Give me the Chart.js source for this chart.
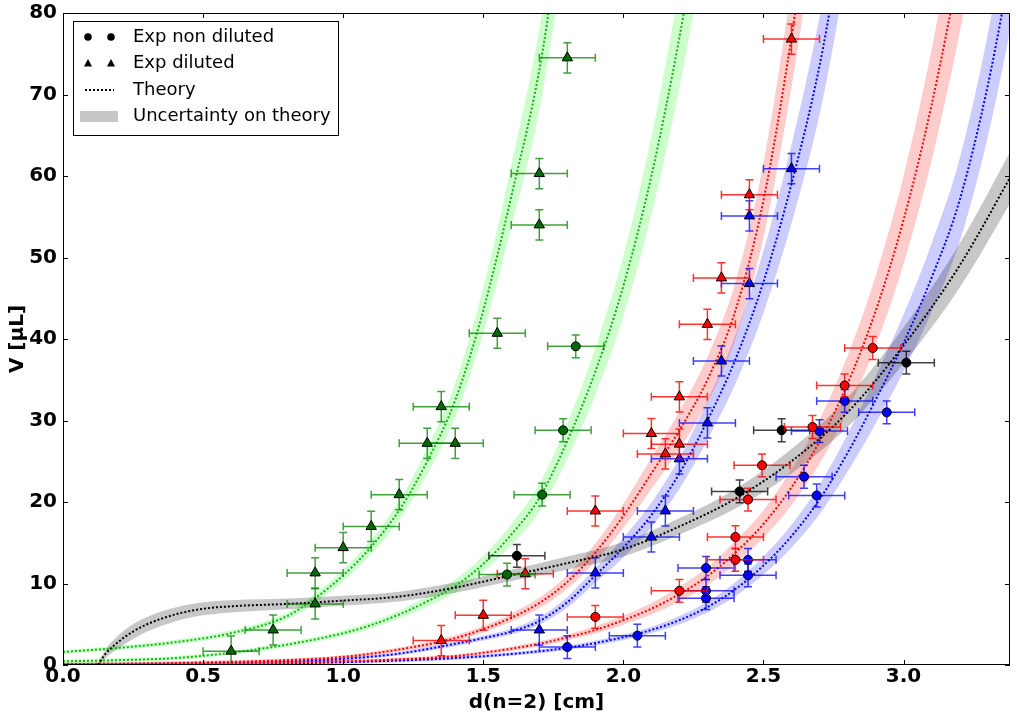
<!DOCTYPE html>
<html>
<head>
<meta charset="utf-8">
<script src="https://cdn.jsdelivr.net/npm/chart.js@4.4.1/dist/chart.umd.min.js"></script>
<style>
html,body{margin:0;padding:0;background:#fff}
#wrap{width:1017px;height:713px}
</style>
</head>
<body>
<div id="wrap"><canvas id="chart"></canvas></div>
<script>
// theory curves: x = d [cm], V [µL], band half width [µL]
const greenAX = [0, 0.2, 0.4, 0.6, 0.8, 0.9, 1.0, 1.1, 1.2, 1.3, 1.4, 1.5, 1.6, 1.7, 1.75, 1.8];
const greenAV = [1.6, 2.1, 2.8, 3.9, 6.0, 8.2, 11.0, 14.5, 19.0, 25.0, 32.5, 43.5, 57.5, 73, 84, 96];
const greenAErr = [0.25, 0.25, 0.3, 0.35, 0.45, 0.55, 0.7, 0.9, 1.2, 1.6, 2.1, 2.8, 3.8, 5, 5.8, 6.5];

const greenBX = [0, 0.2, 0.4, 0.6, 0.8, 1.0, 1.1, 1.2, 1.3, 1.4, 1.5, 1.6, 1.7, 1.8, 1.9, 2.0, 2.1, 2.2, 2.25, 2.3];
const greenBV = [0.45, 0.6, 0.85, 1.5, 2.5, 3.9, 4.9, 6.2, 7.8, 9.7, 12.4, 16.0, 20.5, 27.5, 36, 46.5, 60, 77, 87, 98];
const greenBErr = [0.25, 0.25, 0.25, 0.25, 0.3, 0.35, 0.4, 0.5, 0.65, 0.8, 1.0, 1.3, 1.7, 2.2, 2.9, 3.7, 4.8, 6.2, 7, 7.8];

const redAX = [0, 0.4, 0.8, 1.0, 1.2, 1.4, 1.5, 1.6, 1.7, 1.8, 1.9, 2.0, 2.1, 2.2, 2.3, 2.4, 2.5, 2.6, 2.65, 2.7];
const redAV = [0.1, 0.25, 0.6, 1.0, 1.9, 3.3, 4.4, 5.8, 7.6, 10.2, 13.8, 18.3, 23.5, 28.8, 35, 43.5, 57, 77, 89, 101];
const redAErr = [0.2, 0.2, 0.2, 0.2, 0.25, 0.35, 0.4, 0.5, 0.65, 0.85, 1.1, 1.5, 1.9, 2.3, 2.8, 3.5, 4.6, 6.2, 7.1, 8];

const blueAX = [0, 0.4, 0.8, 1.0, 1.2, 1.4, 1.5, 1.6, 1.7, 1.8, 1.9, 2.0, 2.1, 2.2, 2.3, 2.4, 2.5, 2.6, 2.7, 2.75, 2.8];
const blueAV = [0.05, 0.15, 0.4, 0.75, 1.4, 2.6, 3.3, 4.1, 5.4, 7.7, 11.0, 14.4, 18.4, 23.5, 30, 37.5, 47, 59, 73.5, 83, 94];
const blueAErr = [0.2, 0.2, 0.2, 0.2, 0.2, 0.3, 0.3, 0.35, 0.45, 0.65, 0.9, 1.2, 1.5, 1.9, 2.4, 3.0, 3.8, 4.8, 6, 6.8, 7.7];

const redBX = [0, 0.4, 0.8, 1.0, 1.2, 1.4, 1.5, 1.6, 1.7, 1.8, 1.9, 2.0, 2.1, 2.2, 2.3, 2.4, 2.5, 2.6, 2.7, 2.8, 2.9, 3.0, 3.1, 3.2, 3.25];
const redBV = [0.02, 0.1, 0.3, 0.45, 0.7, 1.1, 1.5, 2.0, 2.6, 3.4, 4.3, 5.5, 6.9, 8.7, 10.9, 13.8, 17.3, 21.8, 27.4, 34.5, 43.4, 54.6, 68.7, 86, 96];
const redBErr = [0.2, 0.2, 0.2, 0.2, 0.2, 0.2, 0.2, 0.25, 0.3, 0.35, 0.45, 0.55, 0.7, 0.9, 1.1, 1.4, 1.7, 2.2, 2.7, 3.4, 4.3, 5.4, 6.8, 8.5, 9.5];

const blueBX = [0, 0.4, 0.8, 1.0, 1.2, 1.4, 1.6, 1.8, 1.9, 2.0, 2.1, 2.2, 2.3, 2.4, 2.5, 2.6, 2.7, 2.8, 2.9, 3.0, 3.1, 3.2, 3.3, 3.4];
const blueBV = [0.02, 0.07, 0.2, 0.35, 0.55, 0.85, 1.35, 2.1, 2.7, 3.4, 4.3, 5.5, 7.1, 9.3, 12.2, 15.8, 20.3, 26, 32.5, 39.5, 47.5, 57, 71, 89];
const blueBErr = [0.2, 0.2, 0.2, 0.2, 0.2, 0.2, 0.2, 0.25, 0.3, 0.35, 0.4, 0.5, 0.65, 0.85, 1.1, 1.4, 1.8, 2.3, 2.9, 3.5, 4.2, 5.1, 6.3, 7.9];

const blackX = [0.125, 0.15, 0.2, 0.25, 0.3, 0.4, 0.5, 0.6, 0.8, 1.0, 1.2, 1.4, 1.6, 1.8, 2.0, 2.2, 2.4, 2.6, 2.8, 3.0, 3.2, 3.4];
const blackV = [0, 1.3, 2.9, 4.1, 5.0, 6.2, 6.9, 7.2, 7.5, 7.9, 8.4, 9.5, 11.0, 12.5, 14.2, 17.0, 20.4, 25.0, 31.0, 39.2, 49.0, 61.0];
const blackErr = [0.2, 0.5, 0.8, 0.9, 0.9, 0.85, 0.8, 0.75, 0.65, 0.6, 0.6, 0.65, 0.7, 0.8, 0.9, 1.0, 1.2, 1.5, 1.8, 2.2, 2.7, 3.2];

// measurements, non diluted (circles)
const nonBlackX = [1.62, 2.415, 2.565, 3.01];
const nonBlackY = [13.4, 21.3, 28.8, 37.1];
const nonRedX = [1.9, 2.2, 2.4, 2.4, 2.445, 2.495, 2.675, 2.79, 2.89];
const nonRedY = [5.9, 9.1, 12.9, 15.7, 20.3, 24.5, 29.2, 34.3, 38.9];
const nonBlueX = [1.8, 2.05, 2.295, 2.295, 2.295, 2.445, 2.445, 2.645, 2.69, 2.70, 2.79, 2.94];
const nonBlueY = [2.2, 3.6, 8.2, 9.1, 11.9, 11.0, 12.9, 23.1, 20.8, 28.7, 32.4, 31.0];
const nonGreenX = [1.585, 1.71, 1.785, 1.83];
const nonGreenY = [11.1, 20.9, 28.8, 39.1];

// measurements, diluted (triangles)
const dilGreenX = [0.6, 0.75, 0.9, 0.9, 1.0, 1.1, 1.2, 1.3, 1.4, 1.35, 1.55, 1.7, 1.7, 1.8];
const dilGreenY = [1.7, 4.3, 7.5, 11.3, 14.4, 17.0, 20.9, 27.2, 27.2, 31.7, 40.7, 54.0, 60.3, 74.5];
const dilRedX = [1.35, 1.5, 1.65, 1.9, 2.1, 2.15, 2.2, 2.2, 2.3, 2.35, 2.45, 2.6];
const dilRedY = [3.0, 6.1, 11.2, 18.9, 28.4, 25.9, 27.1, 32.9, 41.8, 47.5, 57.7, 76.8];
const dilBlueX = [1.7, 1.9, 2.1, 2.15, 2.2, 2.3, 2.35, 2.45, 2.45, 2.6];
const dilBlueY = [4.3, 11.3, 15.7, 18.9, 25.3, 29.7, 37.3, 46.8, 55.1, 60.9];

const errD = 0.1;      // cm
const errNon = 1.4;    // µL
const errDil = 1.85;   // µL

const xTicks = [0, 0.5, 1.0, 1.5, 2.0, 2.5, 3.0];
const yTicks = [0, 10, 20, 30, 40, 50, 60, 70, 80];

const FONT = 'DejaVu Sans';
Chart.defaults.font.family = FONT;
Chart.defaults.color = '#000';

const pts = (xs, ys) => xs.map((x, i) => ({x, y: ys[i]}));

function band(xs, vs, errs, color){
  const base = {showLine:true, pointRadius:0, borderWidth:0, borderColor:'transparent',
    cubicInterpolationMode:'monotone', order:3};
  return [
    {...base, data: xs.map((x, i) => ({x, y: vs[i] + errs[i]})), fill:false},
    {...base, data: xs.map((x, i) => ({x, y: vs[i] - errs[i]})), fill:'-1', backgroundColor:color}
  ];
}
function theory(xs, vs, color){
  return {data: pts(xs, vs), showLine:true, pointRadius:0, borderColor:color, borderWidth:2,
    borderDash:[2,2], cubicInterpolationMode:'monotone', fill:false, order:2};
}
function meas(xs, ys, fillCol, errCol, style, err){
  return {data: pts(xs, ys), pointStyle:style, pointRadius: style === 'circle' ? 4.5 : 6,
    backgroundColor:fillCol, borderColor:'#000', borderWidth:1, order:1,
    errX:errD, errY:err, errColor:errCol};
}

const datasets = [
  ...band(blackX, blackV, blackErr, 'rgba(0,0,0,0.22)'),
  ...band(greenAX, greenAV, greenAErr, 'rgba(0,255,0,0.2)'),
  ...band(greenBX, greenBV, greenBErr, 'rgba(0,255,0,0.2)'),
  ...band(redAX, redAV, redAErr, 'rgba(255,0,0,0.2)'),
  ...band(redBX, redBV, redBErr, 'rgba(255,0,0,0.2)'),
  ...band(blueAX, blueAV, blueAErr, 'rgba(0,0,255,0.2)'),
  ...band(blueBX, blueBV, blueBErr, 'rgba(0,0,255,0.2)'),
  theory(blackX, blackV, '#000'),
  theory(greenAX, greenAV, '#14b414'),
  theory(greenBX, greenBV, '#14b414'),
  theory(redAX, redAV, '#ff0000'),
  theory(redBX, redBV, '#ff0000'),
  theory(blueAX, blueAV, '#0000ff'),
  theory(blueBX, blueBV, '#0000ff'),
  meas(dilGreenX, dilGreenY, '#006a00', 'rgba(0,128,0,0.75)', 'triangle', errDil),
  meas(nonGreenX, nonGreenY, '#006a00', 'rgba(0,128,0,0.75)', 'circle', errNon),
  meas(dilRedX, dilRedY, '#ff0000', 'rgba(255,0,0,0.8)', 'triangle', errDil),
  meas(nonRedX, nonRedY, '#ff0000', 'rgba(255,0,0,0.8)', 'circle', errNon),
  meas(dilBlueX, dilBlueY, '#0000ff', 'rgba(0,0,255,0.75)', 'triangle', errDil),
  meas(nonBlueX, nonBlueY, '#0000ff', 'rgba(0,0,255,0.75)', 'circle', errNon),
  meas(nonBlackX, nonBlackY, '#000', 'rgba(0,0,0,0.75)', 'circle', errNon)
];

const decor = {
  id:'decor',
  beforeDatasetDraw(chart, args){
    const ds = chart.data.datasets[args.index];
    if(!ds.errY) return;
    const {ctx, chartArea:a, scales:{x, y}} = chart;
    const cap = 4;
    ctx.save();
    ctx.beginPath(); ctx.rect(a.left, a.top, a.right - a.left, a.bottom - a.top); ctx.clip();
    ctx.strokeStyle = ds.errColor; ctx.lineWidth = 1.5;
    for(const p of ds.data){
      const cx = x.getPixelForValue(p.x), cy = y.getPixelForValue(p.y);
      const xl = x.getPixelForValue(p.x - ds.errX), xr = x.getPixelForValue(p.x + ds.errX);
      const yt = y.getPixelForValue(p.y + ds.errY), yb = y.getPixelForValue(p.y - ds.errY);
      ctx.beginPath();
      ctx.moveTo(xl, cy); ctx.lineTo(xr, cy);
      ctx.moveTo(cx, yt); ctx.lineTo(cx, yb);
      ctx.moveTo(xl, cy - cap); ctx.lineTo(xl, cy + cap);
      ctx.moveTo(xr, cy - cap); ctx.lineTo(xr, cy + cap);
      ctx.moveTo(cx - cap, yt); ctx.lineTo(cx + cap, yt);
      ctx.moveTo(cx - cap, yb); ctx.lineTo(cx + cap, yb);
      ctx.stroke();
    }
    ctx.restore();
  },
  afterDraw(chart){
    const {ctx, chartArea:a, scales:{x, y}} = chart;
    ctx.save();
    // frame and inward ticks on all sides
    ctx.strokeStyle = '#000'; ctx.lineWidth = 1;
    ctx.strokeRect(a.left + 0.5, a.top + 0.5, a.right - a.left - 1, a.bottom - a.top - 1);
    ctx.beginPath();
    for(const v of xTicks){
      const px = Math.round(x.getPixelForValue(v)) + 0.5;
      ctx.moveTo(px, a.bottom); ctx.lineTo(px, a.bottom - 5);
      ctx.moveTo(px, a.top); ctx.lineTo(px, a.top + 5);
    }
    for(const v of yTicks){
      const py = Math.round(y.getPixelForValue(v)) + 0.5;
      ctx.moveTo(a.left, py); ctx.lineTo(a.left + 5, py);
      ctx.moveTo(a.right, py); ctx.lineTo(a.right - 5, py);
    }
    ctx.stroke();

    // legend
    const L = 73, T = 21, W = 265, H = 114;
    ctx.fillStyle = '#fff';
    ctx.fillRect(L, T, W, H);
    ctx.strokeRect(L + 0.5, T + 0.5, W, H);
    const rows = [37, 63, 90, 116];
    ctx.fillStyle = '#000';
    for(const mx of [88, 111]){
      ctx.beginPath(); ctx.arc(mx, rows[0], 3.8, 0, Math.PI * 2); ctx.fill();
      ctx.beginPath();
      ctx.moveTo(mx, rows[1] - 4); ctx.lineTo(mx + 4, rows[1] + 3.5); ctx.lineTo(mx - 4, rows[1] + 3.5);
      ctx.closePath(); ctx.fill();
    }
    ctx.setLineDash([2, 2]); ctx.lineWidth = 2;
    ctx.beginPath(); ctx.moveTo(85, rows[2]); ctx.lineTo(114, rows[2]); ctx.stroke();
    ctx.setLineDash([]);
    ctx.fillStyle = 'rgba(0,0,0,0.22)';
    ctx.fillRect(80, rows[3] - 5, 38, 11);
    ctx.fillStyle = '#000';
    ctx.font = '18px "' + FONT + '"';
    ctx.textBaseline = 'middle';
    ctx.textAlign = 'left';
    ['Exp non diluted', 'Exp diluted', 'Theory', 'Uncertainty on theory']
      .forEach((t, i) => ctx.fillText(t, 133, rows[i]));
    ctx.restore();
  }
};

new Chart(document.getElementById('chart'), {
  type:'scatter',
  data:{datasets},
  plugins:[decor],
  options:{
    responsive:true,
    maintainAspectRatio:false,
    animation:false,
    events:[],
    layout:{padding:{top:13, right:1, left:0, bottom:0}},
    plugins:{legend:{display:false}, tooltip:{enabled:false}},
    scales:{
      x:{
        type:'linear', min:0, max:3.38,
        afterBuildTicks: s => { s.ticks = xTicks.map(v => ({value:v})); },
        afterFit: s => { s.height = 48; },
        ticks:{padding:2, font:{size:20, weight:'bold', lineHeight:1}, callback: v => Number(v).toFixed(1)},
        grid:{display:false, drawTicks:false},
        border:{display:false},
        title:{display:true, text:'d(n=2) [cm]', font:{size:20, weight:'bold', lineHeight:1}, padding:{top:0, bottom:0}}
      },
      y:{
        type:'linear', min:0, max:80,
        afterBuildTicks: s => { s.ticks = yTicks.map(v => ({value:v})); },
        afterFit: s => { s.width = 63; },
        ticks:{padding:6, font:{size:20, weight:'bold', lineHeight:0.7}},
        grid:{display:false, drawTicks:false},
        border:{display:false},
        title:{display:true, text:'V [µL]', font:{size:20, weight:'bold', lineHeight:1.2}, padding:{top:6, bottom:0}}
      }
    }
  }
});
</script>
</body>
</html>
